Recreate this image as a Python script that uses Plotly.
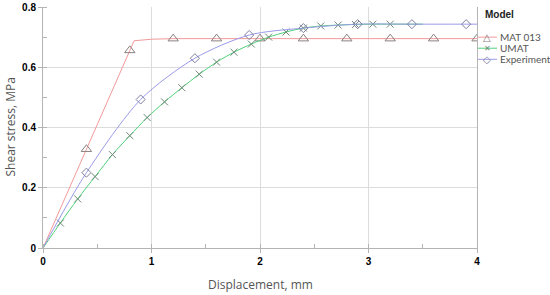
import plotly.graph_objects as go

# ---- data ----
mat_x = [0, 0.4, 0.8, 0.84, 1.0, 1.2, 1.6, 2.0, 2.4, 2.8, 3.2, 3.6, 4.0]
mat_y = [0, 0.328, 0.656, 0.688, 0.693, 0.695, 0.695, 0.695, 0.695, 0.695, 0.695, 0.695, 0.695]
mat_marker_idx = [1, 2, 5, 6, 7, 8, 9, 10, 11, 12]

umat_x = [0, 0.16, 0.32, 0.48, 0.64, 0.80, 0.96, 1.12, 1.28, 1.44, 1.60, 1.76,
          1.92, 2.08, 2.24, 2.40, 2.56, 2.72, 2.88, 3.04, 3.20, 3.5]
umat_y = [0, 0.083, 0.163, 0.237, 0.31, 0.373, 0.433, 0.485, 0.532, 0.577, 0.617, 0.65,
          0.677, 0.70, 0.717, 0.73, 0.737, 0.74, 0.742, 0.743, 0.743, 0.743]
umat_marker_idx = list(range(1, 21))

exp_x = [0, 0.4, 0.9, 1.4, 1.9, 2.4, 2.9, 3.4, 3.9, 4.0]
exp_y = [0, 0.25, 0.493, 0.63, 0.707, 0.73, 0.743, 0.743, 0.743, 0.743]
exp_marker_idx = [1, 2, 3, 4, 5, 6, 7, 8]

series_names = ["MAT 013", "UMAT", "Experiment"]
legend_title = "Model"
x_ticks = [0, 1, 2, 3, 4]
y_ticks = [0, 0.2, 0.4, 0.6, 0.8]
y_tick_text = ["0", "0.2", "0.4", "0.6", "0.8"]

colors = ["#f29a9a", "#4fd27a", "#9a9ae8"]
symbols = ["triangle-up-open", "x-thin-open", "diamond-open"]
glyphs = ["\u25B3", "\u2715", "\u25C7"]
marker_colors = ["#8a8080", "#6f8a78", "#7f80a0"]
shapes_line = ["linear", "spline", "spline"]

fig = go.Figure()
data = [(mat_x, mat_y, mat_marker_idx), (umat_x, umat_y, umat_marker_idx), (exp_x, exp_y, exp_marker_idx)]
for i, (xs, ys, idx) in enumerate(data):
    fig.add_trace(go.Scatter(x=xs, y=ys, mode="lines", name=series_names[i],
                             line=dict(color=colors[i], width=1, shape=shapes_line[i], smoothing=0.8),
                             showlegend=False, hoverinfo="skip"))
    msize = 9 if i == 0 else 7
    fig.add_trace(go.Scatter(x=[xs[k] for k in idx], y=[ys[k] for k in idx], mode="markers",
                             name=series_names[i],
                             marker=dict(symbol=symbols[i], size=msize, color=marker_colors[i],
                                         line=dict(color=marker_colors[i], width=1)),
                             showlegend=False))

tickfont = dict(family="Arial", size=10, color="#000000", weight="bold")
fig.update_xaxes(range=[0, 4], tickvals=x_ticks, showgrid=True, gridcolor="#dcdcdc", gridwidth=1,
                 showline=True, linecolor="#b4b4b4", linewidth=1, ticks="outside", ticklen=4, tickcolor="#b4b4b4",
                 tickfont=tickfont, zeroline=False, fixedrange=True, automargin=False,
                 minor=dict(dtick=0.5, ticks="inside", ticklen=4, tickcolor="#b4b4b4", showgrid=False))
fig.update_yaxes(range=[0, 0.8], tickvals=y_ticks, ticktext=y_tick_text, showgrid=True, gridcolor="#dcdcdc", gridwidth=1,
                 showline=True, linecolor="#b4b4b4", linewidth=1, mirror=True, ticks="outside", ticklen=4,
                 tickcolor="#b4b4b4", tickfont=tickfont, zeroline=False, fixedrange=True, automargin=False,
                 minor=dict(dtick=0.1, ticks="inside", ticklen=4, tickcolor="#b4b4b4", showgrid=False))

# custom compact legend (paper coordinates, right of the plot)
annotations = [
    dict(text="Displacement, mm", x=0.5, y=-0.1535, xref="paper", yref="paper", showarrow=False,
         xanchor="center", yanchor="middle", font=dict(family="Open Sans", size=12, color="#555555")),
    dict(text="Shear stress, MPa", x=-0.076, y=0.5, xref="paper", yref="paper", showarrow=False,
         textangle=-90, xanchor="center", yanchor="middle", font=dict(family="Open Sans", size=12, color="#555555")),
    dict(text="<b>" + legend_title + "</b>", x=1.0138, y=0.967, xref="paper", yref="paper", showarrow=False,
         xanchor="left", yanchor="middle", font=dict(family="Arial", size=10, color="#222222")),
]
shape_list = []
row_y = [0.875, 0.829, 0.783]
glyph_sizes = [10, 8, 10]
for i, name in enumerate(series_names):
    shape_list.append(dict(type="line", xref="paper", yref="paper", x0=1.0023, x1=1.046, y0=row_y[i], y1=row_y[i],
                           line=dict(color=colors[i], width=1)))
    annotations.append(dict(text=glyphs[i], x=1.024, y=row_y[i], xref="paper", yref="paper", showarrow=False,
                            xanchor="center", yanchor="middle", borderpad=0,
                            font=dict(family="DejaVu Sans", size=glyph_sizes[i], color=marker_colors[i])))
    annotations.append(dict(text=name, x=1.0507, y=row_y[i], xref="paper", yref="paper", showarrow=False,
                            xanchor="left", yanchor="middle", borderpad=0,
                            font=dict(family="Lato", size=10, color="#555555")))

fig.update_layout(
    width=550, height=295,
    margin=dict(l=43, r=73, t=7, b=47),
    paper_bgcolor="white", plot_bgcolor="white",
    font=dict(family="Open Sans", color="#555555"),
    showlegend=False,
    annotations=annotations,
    shapes=shape_list,
)

fig.write_html("out.html", config={"displayModeBar": False},
               post_script="document.body.style.margin='0px';document.body.style.padding='0px';document.body.style.overflow='hidden';")
